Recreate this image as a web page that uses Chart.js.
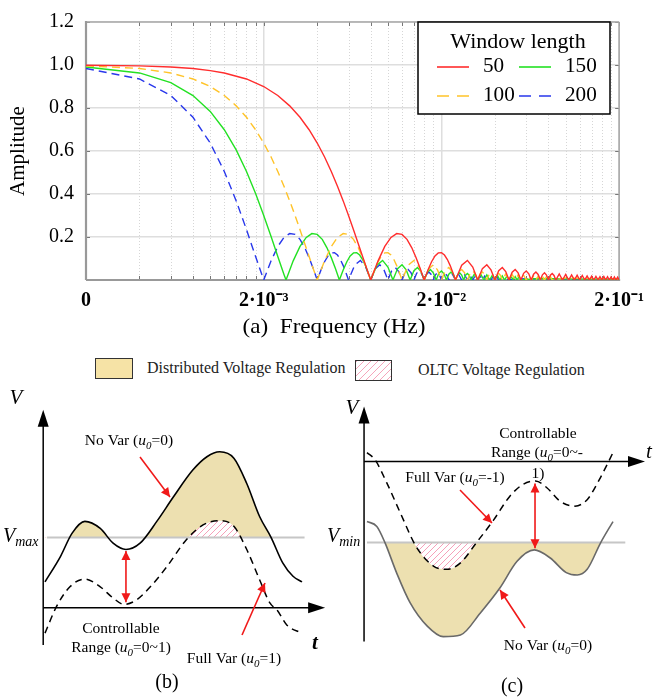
<!DOCTYPE html>
<html>
<head>
<meta charset="utf-8">
<script src="https://cdn.jsdelivr.net/npm/chart.js"></script>
<style>
html, body { margin: 0; padding: 0; background: #fff; }
#wrap { position: relative; width: 653px; height: 698px; overflow: hidden; font-family: "Liberation Serif", "Times New Roman", serif; }
#wrap canvas { position: absolute; }
#chartA { left: 0; top: 0; }
#chartB { left: 0; top: 385px; }
#chartC { left: 320px; top: 385px; }
.key { position: absolute; font-size: 16px; color: #222; white-space: nowrap; }
.box { position: absolute; border: 1px solid #333; box-sizing: border-box; }
</style>
</head>
<body>
<div id="wrap">
  <canvas id="chartA" width="653" height="340"></canvas>
  <div class="box" style="left:95px;top:358px;width:38px;height:21px;background:#f6e3a6;"></div>
  <div class="key" style="left:147px;top:359px;">Distributed Voltage Regulation</div>
  <div class="box" style="left:355px;top:360px;width:37px;height:21px;background:repeating-linear-gradient(135deg,#f5a5bb 0 1px,#fff 1px 5px);"></div>
  <div class="key" style="left:418px;top:361px;">OLTC Voltage Regulation</div>
  <canvas id="chartB" width="330" height="313"></canvas>
  <canvas id="chartC" width="333" height="313"></canvas>
</div>
<script>
// ---- (a) amplitude response for each window length ----
var windowLabels = ['50', '100', '150', '200'];

var freq50 = [0.0002, 0.0004, 0.0006, 0.0008, 0.001, 0.0012, 0.0016, 0.002, 0.0024, 0.0028, 0.0032, 0.0036, 0.004, 0.0044, 0.0048, 0.0052, 0.0056, 0.006, 0.0064, 0.0068, 0.0072, 0.0076, 0.008,
    0.0088, 0.0096, 0.0104, 0.0112, 0.012, 0.0128, 0.0136, 0.0144, 0.0152, 0.016,
    0.0168, 0.0176, 0.0184, 0.0192, 0.020, 0.0208, 0.0216, 0.0224, 0.0232, 0.024,
    0.026, 0.028, 0.030, 0.032, 0.034, 0.036, 0.038, 0.040, 0.042, 0.044, 0.046, 0.048, 0.050, 0.052, 0.054, 0.056,
    0.058, 0.060, 0.062, 0.064, 0.066, 0.068, 0.070, 0.072, 0.074, 0.076, 0.078, 0.080, 0.082, 0.084, 0.086, 0.088,
    0.092, 0.096, 0.100, 0.104, 0.108, 0.112, 0.116, 0.120, 0.124, 0.128, 0.132, 0.136, 0.140, 0.144,
    0.148, 0.152, 0.156, 0.160, 0.164, 0.168, 0.172, 0.176, 0.180, 0.184, 0.188, 0.192, 0.196, 0.200];
var amp50 = [0.999, 0.996, 0.991, 0.984, 0.974, 0.963, 0.935, 0.900, 0.858, 0.810, 0.757, 0.699, 0.637, 0.572, 0.505, 0.436, 0.368, 0.300, 0.234, 0.170, 0.109, 0.052, 0,
    0.089, 0.156, 0.198, 0.216, 0.212, 0.189, 0.151, 0.104, 0.052, 0,
    0.047, 0.085, 0.112, 0.126, 0.127, 0.116, 0.095, 0.067, 0.034, 0,
    0.069, 0.091, 0.060, 0, 0.053, 0.071, 0.047, 0, 0.043, 0.058, 0.039, 0, 0.036, 0.049, 0.033, 0,
    0.031, 0.042, 0.029, 0, 0.027, 0.037, 0.026, 0, 0.024, 0.034, 0.023, 0, 0.022, 0.030, 0.021, 0,
    0.028, 0, 0.026, 0, 0.024, 0, 0.022, 0, 0.021, 0, 0.019, 0, 0.018, 0,
    0.017, 0, 0.016, 0, 0.016, 0, 0.015, 0, 0.014, 0, 0.014, 0, 0.013, 0];

var freq100 = [0.0002, 0.0004, 0.0006, 0.0008, 0.001, 0.0012, 0.0014, 0.0016, 0.0018, 0.002, 0.0022, 0.0024, 0.0026, 0.0028, 0.003, 0.0032, 0.0034, 0.0036, 0.0038, 0.004,
    0.0044, 0.0048, 0.0052, 0.0056, 0.006, 0.0064, 0.0068, 0.0072, 0.0076, 0.008,
    0.0084, 0.0088, 0.0092, 0.0096, 0.010, 0.0104, 0.0108, 0.0112, 0.0116, 0.012,
    0.013, 0.014, 0.015, 0.016, 0.017, 0.018, 0.019, 0.020, 0.021, 0.022, 0.023, 0.024, 0.025, 0.026, 0.027, 0.028,
    0.029, 0.030, 0.031, 0.032, 0.033, 0.034, 0.035, 0.036, 0.037, 0.038, 0.039, 0.040, 0.041, 0.042, 0.043, 0.044,
    0.046, 0.048, 0.050, 0.052, 0.054, 0.056, 0.058, 0.060, 0.062, 0.064, 0.066, 0.068, 0.070, 0.072,
    0.074, 0.076, 0.078, 0.080, 0.082, 0.084, 0.10, 0.14, 0.20];
var amp100 = [0.996, 0.984, 0.963, 0.935, 0.900, 0.858, 0.810, 0.757, 0.699, 0.637, 0.572, 0.505, 0.436, 0.368, 0.300, 0.234, 0.170, 0.109, 0.052, 0,
    0.089, 0.156, 0.198, 0.216, 0.212, 0.189, 0.151, 0.104, 0.052, 0,
    0.047, 0.085, 0.112, 0.126, 0.127, 0.116, 0.095, 0.067, 0.034, 0,
    0.069, 0.091, 0.060, 0, 0.053, 0.071, 0.047, 0, 0.043, 0.058, 0.039, 0, 0.036, 0.049, 0.033, 0,
    0.031, 0.042, 0.029, 0, 0.027, 0.037, 0.026, 0, 0.024, 0.034, 0.023, 0, 0.022, 0.030, 0.021, 0,
    0.028, 0, 0.026, 0, 0.024, 0, 0.022, 0, 0.021, 0, 0.019, 0, 0.018, 0,
    0.017, 0, 0.016, 0, 0.016, 0, 0.009, 0.007, 0.006];

var freq150 = [0.0002, 0.0004, 0.0006, 0.0008, 0.001, 0.0012, 0.0014, 0.0016, 0.0018, 0.002, 0.0022, 0.0024, 0.0026, 0.00267,
    0.00293, 0.0032, 0.00347, 0.00373, 0.004, 0.00427, 0.00453, 0.0048, 0.00507, 0.00533,
    0.0056, 0.00587, 0.00613, 0.0064, 0.00667, 0.00693, 0.0072, 0.00747, 0.00773, 0.008,
    0.00867, 0.00933, 0.0100, 0.01067, 0.01133, 0.0120, 0.01267, 0.01333, 0.0140, 0.01467, 0.01533, 0.0160, 0.01667, 0.01733, 0.0180, 0.01867,
    0.01933, 0.0200, 0.02067, 0.02133, 0.0220, 0.02267, 0.02333, 0.0240, 0.02467, 0.02533, 0.0260, 0.02667, 0.02733, 0.0280, 0.02867, 0.02933,
    0.03067, 0.0320, 0.03333, 0.03467, 0.0360, 0.03733, 0.03867, 0.0400, 0.04133, 0.04267, 0.0440, 0.04533, 0.04667, 0.0480,
    0.04933, 0.05067, 0.0520, 0.05333, 0.05467, 0.0560, 0.07, 0.10, 0.14, 0.20];
var amp150 = [0.991, 0.963, 0.918, 0.858, 0.784, 0.699, 0.605, 0.505, 0.402, 0.300, 0.202, 0.109, 0.026, 0,
    0.089, 0.156, 0.198, 0.216, 0.212, 0.189, 0.151, 0.104, 0.052, 0,
    0.047, 0.085, 0.112, 0.126, 0.127, 0.116, 0.095, 0.067, 0.034, 0,
    0.069, 0.091, 0.060, 0, 0.053, 0.071, 0.047, 0, 0.043, 0.058, 0.039, 0, 0.036, 0.049, 0.033, 0,
    0.031, 0.042, 0.029, 0, 0.027, 0.037, 0.026, 0, 0.024, 0.034, 0.023, 0, 0.022, 0.030, 0.021, 0,
    0.028, 0, 0.026, 0, 0.024, 0, 0.022, 0, 0.021, 0, 0.019, 0, 0.018, 0,
    0.017, 0, 0.016, 0, 0.016, 0, 0.007, 0.005, 0.004, 0.004];

var freq200 = [0.0002, 0.0004, 0.0006, 0.0008, 0.001, 0.0012, 0.0014, 0.0016, 0.0018, 0.002,
    0.0022, 0.0024, 0.0026, 0.0028, 0.003, 0.0032, 0.0034, 0.0036, 0.0038, 0.004,
    0.0042, 0.0044, 0.0046, 0.0048, 0.005, 0.0052, 0.0054, 0.0056, 0.0058, 0.006,
    0.0065, 0.007, 0.0075, 0.008, 0.0085, 0.009, 0.0095, 0.010, 0.0105, 0.011, 0.0115, 0.012, 0.0125, 0.013, 0.0135, 0.014,
    0.0145, 0.015, 0.0155, 0.016, 0.0165, 0.017, 0.0175, 0.018, 0.0185, 0.019, 0.0195, 0.020, 0.0205, 0.021, 0.0215, 0.022,
    0.023, 0.024, 0.025, 0.026, 0.027, 0.028, 0.029, 0.030, 0.031, 0.032, 0.033, 0.034, 0.035, 0.036,
    0.037, 0.038, 0.039, 0.040, 0.041, 0.042, 0.06, 0.10, 0.14, 0.20];
var amp200 = [0.984, 0.935, 0.858, 0.757, 0.637, 0.505, 0.368, 0.234, 0.109, 0,
    0.089, 0.156, 0.198, 0.216, 0.212, 0.189, 0.151, 0.104, 0.052, 0,
    0.047, 0.085, 0.112, 0.126, 0.127, 0.116, 0.095, 0.067, 0.034, 0,
    0.069, 0.091, 0.060, 0, 0.053, 0.071, 0.047, 0, 0.043, 0.058, 0.039, 0, 0.036, 0.049, 0.033, 0,
    0.031, 0.042, 0.029, 0, 0.027, 0.037, 0.026, 0, 0.024, 0.034, 0.023, 0, 0.022, 0.030, 0.021, 0,
    0.028, 0, 0.026, 0, 0.024, 0, 0.022, 0, 0.021, 0, 0.019, 0, 0.018, 0,
    0.017, 0, 0.016, 0, 0.016, 0, 0.006, 0.004, 0.003, 0.003];

var freqTicks = [2e-4, 2e-3, 2e-2, 2e-1];
var freqTickLabels = ['0', '2·10⁻³', '2·10⁻²', '2·10⁻¹'];

// ---- (b) over-voltage case ----
var tNoVarB = [0, 0.6, 1.05, 1.55, 2.15, 2.65, 3.15, 3.7, 4.35, 5.0, 5.75, 6.3, 6.8, 7.35, 7.85, 8.35, 8.8, 9.25, 9.65, 10];
var vNoVarB = [0.987, 1.023, 1.056, 1.073, 1.063, 1.042, 1.033, 1.042, 1.073, 1.108, 1.146, 1.165, 1.172, 1.163, 1.127, 1.080, 1.050, 1.014, 0.995, 0.987];
var tFullVarB = [0, 0.45, 0.97, 1.55, 2.15, 2.65, 3.07, 3.55, 4.1, 4.75, 5.5, 6.15, 6.8, 7.35, 7.85, 8.35, 8.75, 9.05, 9.4, 10];
var vFullVarB = [0.914, 0.952, 0.980, 0.991, 0.980, 0.964, 0.955, 0.961, 0.980, 1.009, 1.047, 1.068, 1.074, 1.066, 1.033, 0.990, 0.957, 0.946, 0.926, 0.914];
var vMaxB = 1.05;
var tAxisB = 0.95;

// ---- (c) under-voltage case ----
var tNoVarC = [0, 0.4, 0.73, 1.2, 1.75, 2.45, 3.1, 3.8, 4.6, 5.4, 6.1, 6.8, 7.45, 8.1, 8.55, 8.95, 9.5, 10];
var vNoVarC = [0.976, 0.970, 0.950, 0.913, 0.876, 0.847, 0.834, 0.836, 0.863, 0.894, 0.927, 0.941, 0.931, 0.913, 0.910, 0.917, 0.950, 0.976];
var tFullVarC = [0, 0.33, 0.8, 1.35, 2.0, 2.7, 3.25, 3.8, 4.45, 5.15, 5.8, 6.35, 6.85, 7.3, 7.85, 8.45, 8.95, 9.45, 10];
var vFullVarC = [1.061, 1.052, 1.024, 0.987, 0.945, 0.921, 0.917, 0.925, 0.950, 0.978, 1.007, 1.022, 1.026, 1.018, 1.001, 0.995, 1.003, 1.028, 1.061];
var vMinC = 0.95;
var tAxisC = 1.05;

var serif = '"Liberation Serif", "Times New Roman", serif';
var red = 'rgb(255,45,45)', orange = 'rgb(255,195,40)', green = 'rgb(35,225,35)', blue = 'rgb(40,55,235)';
var tan = 'rgb(237,224,176)';
var arrowRed = 'rgb(240,25,25)';

function pairs(xs, ys) {
    return xs.map(function (x, i) { return {x: x, y: ys[i]}; });
}

var minorTicks = [];
freqTicks.forEach(function (f, i) {
    if (i < freqTicks.length - 1) {
        for (var k = 1; k <= 9; k++) minorTicks.push(f * k);
    }
});
minorTicks.push(freqTicks[freqTicks.length - 1]);

function majorIndex(v) {
    for (var i = 0; i < freqTicks.length; i++) {
        if (Math.abs(freqTicks[i] - v) / freqTicks[i] < 1e-6) return i;
    }
    return -1;
}

function line(ctx, x0, y0, x1, y1) {
    ctx.beginPath(); ctx.moveTo(x0, y0); ctx.lineTo(x1, y1); ctx.stroke();
}

function stretchText(ctx, text, cx, cy, font, sx, align) {
    ctx.save();
    ctx.font = font;
    ctx.translate(cx, cy);
    ctx.scale(sx, 1);
    ctx.textAlign = align || 'center';
    ctx.textBaseline = 'middle';
    ctx.fillText(text, 0, 0);
    ctx.restore();
}

// frame, dotted minor grid, inner ticks, x title and the boxed legend of (a)
var frameA = {
    id: 'frameA',
    beforeDatasetsDraw: function (chart) {
        var ctx = chart.ctx, a = chart.chartArea, xs = chart.scales.x, ys = chart.scales.y;
        ctx.save();
        ctx.strokeStyle = '#d6d6d6';
        ctx.lineWidth = 1;
        ctx.setLineDash([1, 2]);
        minorTicks.forEach(function (f) {
            if (majorIndex(f) >= 0) return;
            var px = Math.round(xs.getPixelForValue(f)) + 0.5;
            line(ctx, px, a.top, px, a.bottom);
        });
        ctx.setLineDash([]);
        ctx.strokeStyle = '#777';
        minorTicks.forEach(function (f) {
            var px = Math.round(xs.getPixelForValue(f)) + 0.5;
            line(ctx, px, a.bottom, px, a.bottom - 4);
            line(ctx, px, a.top, px, a.top + 4);
        });
        ys.ticks.forEach(function (t) {
            var py = Math.round(ys.getPixelForValue(t.value)) + 0.5;
            line(ctx, a.left, py, a.left + 4, py);
            line(ctx, a.right, py, a.right - 4, py);
        });
        ctx.strokeStyle = '#a8a8a8';
        ctx.lineWidth = 1.5;
        line(ctx, a.left, a.top, a.right, a.top);
        line(ctx, a.right, a.top, a.right, a.bottom);
        ctx.strokeStyle = '#999';
        ctx.lineWidth = 2.2;
        line(ctx, a.left, a.top - 1, a.left, a.bottom);
        line(ctx, a.left, a.bottom, a.right + 1, a.bottom);
        ctx.restore();
    },
    afterDraw: function (chart) {
        var ctx = chart.ctx;
        ctx.save();
        ctx.fillStyle = '#000';
        stretchText(ctx, '(a)  Frequency (Hz)', 334, 327, '21px ' + serif, 1.1);

        var lx = 418, ly = 22, lw = 192, lh = 92;
        ctx.fillStyle = '#fff';
        ctx.fillRect(lx, ly, lw, lh);
        ctx.strokeStyle = '#000';
        ctx.lineWidth = 1.5;
        ctx.strokeRect(lx, ly, lw, lh);
        ctx.fillStyle = '#000';
        stretchText(ctx, 'Window length', lx + 100, ly + 21, '20px ' + serif, 1.1);
        chart.data.datasets.forEach(function (ds, i) {
            var col = Math.floor(i / 2), row = i % 2;
            var x0 = lx + 19 + col * 82, y = ly + 45 + row * 29;
            ctx.strokeStyle = ds.borderColor;
            ctx.lineWidth = 1.6;
            ctx.setLineDash(ds.borderDash.length ? [12, 8] : []);
            line(ctx, x0, y, x0 + 32, y);
            ctx.setLineDash([]);
            ctx.fillStyle = '#000';
            stretchText(ctx, ds.label, x0 + 46, y, '20px ' + serif, 1.06, 'left');
        });
        ctx.restore();
    }
};

new Chart(document.getElementById('chartA'), {
    type: 'line',
    data: {
        datasets: [
            {label: windowLabels[0], data: pairs(freq50, amp50), borderColor: red, borderDash: []},
            {label: windowLabels[1], data: pairs(freq100, amp100), borderColor: orange, borderDash: [8, 5]},
            {label: windowLabels[2], data: pairs(freq150, amp150), borderColor: green, borderDash: []},
            {label: windowLabels[3], data: pairs(freq200, amp200), borderColor: blue, borderDash: [8, 5]}
        ]
    },
    options: {
        responsive: false,
        animation: false,
        layout: {padding: {left: 0, right: 31, top: 10, bottom: 0}},
        elements: {
            line: {borderWidth: 1.4, tension: 0, fill: false},
            point: {radius: 0}
        },
        plugins: {
            legend: {display: false},
            tooltip: {enabled: false}
        },
        scales: {
            x: {
                type: 'logarithmic',
                min: freqTicks[0],
                max: freqTicks[freqTicks.length - 1],
                afterBuildTicks: function (s) {
                    s.ticks = minorTicks.map(function (v) { return {value: v}; });
                },
                afterFit: function (s) { s.height = 60; },
                ticks: {
                    autoSkip: false, maxRotation: 0, minRotation: 0, padding: 9,
                    color: '#000',
                    font: {family: serif, size: 20, weight: 'bold'},
                    callback: function (v) {
                        var i = majorIndex(v);
                        return i < 0 ? '' : freqTickLabels[i];
                    }
                },
                grid: {
                    drawTicks: false,
                    lineWidth: 1.5,
                    color: function (c) {
                        return c.tick && majorIndex(c.tick.value) >= 0 ? '#dedede' : 'rgba(0,0,0,0)';
                    }
                },
                border: {display: false}
            },
            y: {
                min: 0,
                max: 1.2,
                afterFit: function (s) { s.width = 86; },
                ticks: {
                    stepSize: 0.2, padding: 12, color: '#000',
                    font: {family: serif, size: 20, lineHeight: 1},
                    callback: function (v) { return v === 0 ? '' : v.toFixed(1); }
                },
                grid: {drawTicks: false, color: '#dedede', lineWidth: 1.5},
                border: {display: false},
                title: {
                    display: true, text: 'Amplitude', color: '#000',
                    font: {family: serif, size: 21},
                    padding: {top: 6, bottom: 0}
                }
            }
        }
    },
    plugins: [frameA]
});

// ---- helpers for the two schematic panels ----
// pink hatching on white, so it covers the tan fill where both overlap
function makeHatch(ctx) {
    var c = document.createElement('canvas');
    c.width = 6; c.height = 6;
    var g = c.getContext('2d');
    g.fillStyle = '#fff';
    g.fillRect(0, 0, 6, 6);
    g.strokeStyle = 'rgb(246,160,185)';
    g.lineWidth = 1;
    g.beginPath();
    g.moveTo(-1, 7); g.lineTo(7, -1);
    g.moveTo(-1, 1); g.lineTo(1, -1);
    g.moveTo(5, 7); g.lineTo(7, 5);
    g.stroke();
    return ctx.createPattern(c, 'repeat');
}

function richText(ctx, parts, x, cy, size, align) {
    var fonts = {
        n: size + 'px ' + serif,
        i: 'italic ' + size + 'px ' + serif,
        b: 'bold italic ' + size + 'px ' + serif,
        s: 'italic ' + Math.round(size * 0.72) + 'px ' + serif
    };
    var w = 0;
    parts.forEach(function (p) { ctx.font = fonts[p[1]]; w += ctx.measureText(p[0]).width; });
    var px = align === 'left' ? x : x - w / 2;
    var base = cy + size * 0.33;
    ctx.textAlign = 'left';
    ctx.textBaseline = 'alphabetic';
    parts.forEach(function (p) {
        ctx.font = fonts[p[1]];
        ctx.fillText(p[0], px, base + (p[1] === 's' ? size * 0.22 : 0));
        px += ctx.measureText(p[0]).width;
    });
}

function arrow(ctx, x0, y0, x1, y1, both) {
    var L = 9, W = 4.5;
    function head(x, y, ang) {
        ctx.beginPath();
        ctx.moveTo(x, y);
        ctx.lineTo(x - L * Math.cos(ang) + W * Math.sin(ang), y - L * Math.sin(ang) - W * Math.cos(ang));
        ctx.lineTo(x - L * Math.cos(ang) - W * Math.sin(ang), y - L * Math.sin(ang) + W * Math.cos(ang));
        ctx.closePath();
        ctx.fill();
    }
    var a = Math.atan2(y1 - y0, x1 - x0);
    line(ctx, x0, y0, x1, y1);
    head(x1, y1, a);
    if (both) head(x0, y0, a + Math.PI);
}

function axes(chart, tY, tEnd, vT, vFrom, vTo) {
    var ctx = chart.ctx, xs = chart.scales.x, ys = chart.scales.y;
    var px = xs.getPixelForValue(tY), pEnd = xs.getPixelForValue(tEnd);
    var pyT = ys.getPixelForValue(vT), pTop = ys.getPixelForValue(vTo), pBot = ys.getPixelForValue(vFrom);
    ctx.strokeStyle = '#000';
    ctx.fillStyle = '#000';
    ctx.lineWidth = 1.5;
    line(ctx, px, pBot, px, pTop + 14);
    line(ctx, px, pyT, pEnd - 14, pyT);
    ctx.beginPath();
    ctx.moveTo(px, pTop); ctx.lineTo(px - 5.5, pTop + 17); ctx.lineTo(px + 5.5, pTop + 17); ctx.closePath();
    ctx.fill();
    ctx.beginPath();
    ctx.moveTo(pEnd, pyT); ctx.lineTo(pEnd - 17, pyT - 5.5); ctx.lineTo(pEnd - 17, pyT + 5.5); ctx.closePath();
    ctx.fill();
}

function limitLine(chart, v, t0, t1) {
    var ctx = chart.ctx, xs = chart.scales.x, ys = chart.scales.y;
    var py = ys.getPixelForValue(v);
    ctx.save();
    ctx.strokeStyle = '#c6c6c6';
    ctx.lineWidth = 2;
    line(ctx, xs.getPixelForValue(t0), py, xs.getPixelForValue(t1), py);
    ctx.restore();
}

function panelChart(id, datasets, pad, vRange, plugin) {
    return new Chart(document.getElementById(id), {
        type: 'line',
        data: {datasets: datasets},
        options: {
            responsive: false,
            animation: false,
            layout: {padding: pad},
            elements: {point: {radius: 0}},
            plugins: {
                legend: {display: false},
                tooltip: {enabled: false},
                filler: {drawTime: 'beforeDatasetsDraw'}
            },
            scales: {
                x: {type: 'linear', min: 0, max: 10, display: false},
                y: {type: 'linear', min: vRange[0], max: vRange[1], display: false}
            }
        },
        plugins: [plugin]
    });
}

var u0 = function (pre, post) { return [[pre, 'n'], ['u', 'i'], ['0', 's'], [post, 'n']]; };

// ---- (b) ----
var hatchB = makeHatch(document.getElementById('chartB').getContext('2d'));
var panelB = {
    id: 'panelB',
    beforeDatasetsDraw: function (chart) { limitLine(chart, vMaxB, 0.08, 10.1); },
    afterDraw: function (chart) {
        var ctx = chart.ctx;
        ctx.save();
        axes(chart, -0.07, 10.9, tAxisB, 0.897, 1.232);
        ctx.fillStyle = '#000';
        richText(ctx, [['V', 'i']], 16, 12, 21);
        richText(ctx, [['V', 'i'], ['max', 's']], 3, 150, 20, 'left');
        richText(ctx, [['t', 'b']], 315, 257, 21);
        richText(ctx, u0('No Var (', '=0)'), 129, 55, 15.5);
        richText(ctx, [['Controllable', 'n']], 121, 243, 15.5);
        richText(ctx, u0('Range (', '=0~1)'), 121, 262, 15.5);
        richText(ctx, u0('Full Var (', '=1)'), 234, 273, 15.5);
        richText(ctx, [['(b)', 'n']], 167, 296, 20);
        ctx.strokeStyle = arrowRed;
        ctx.fillStyle = arrowRed;
        ctx.lineWidth = 1.6;
        var xs = chart.scales.x, ys = chart.scales.y;
        arrow(ctx, xs.getPixelForValue(3.15), ys.getPixelForValue(1.031), xs.getPixelForValue(3.15), ys.getPixelForValue(0.958), true);
        arrow(ctx, 140, 72, 170, 112);
        arrow(ctx, 242, 250, 265, 198);
        ctx.restore();
    }
};
// dashed curve first: its hatch is filled after (on top of) the tan area
panelChart('chartB', [
    {data: pairs(tFullVarB, vFullVarB), borderColor: '#000', borderWidth: 1.5, borderDash: [7, 5], cubicInterpolationMode: 'monotone', clip: false,
        fill: {target: {value: vMaxB}, above: hatchB, below: 'rgba(0,0,0,0)'}},
    {data: pairs(tNoVarB, vNoVarB), borderColor: '#000', borderWidth: 1.6, cubicInterpolationMode: 'monotone', clip: false,
        fill: {target: {value: vMaxB}, above: tan, below: 'rgba(0,0,0,0)'}}
], {left: 45, right: 28, top: 12, bottom: 55}, [0.90, 1.25], panelB);

// ---- (c) ----
var hatchC = makeHatch(document.getElementById('chartC').getContext('2d'));
var panelC = {
    id: 'panelC',
    beforeDatasetsDraw: function (chart) { limitLine(chart, vMinC, 0, 10.5); },
    afterDraw: function (chart) {
        var ctx = chart.ctx;
        ctx.save();
        axes(chart, -0.12, 11.3, tAxisC, 0.828, 1.118);
        ctx.fillStyle = '#000';
        richText(ctx, [['V', 'i']], 32, 22, 21);
        richText(ctx, [['V', 'i'], ['min', 's']], 7, 150, 20, 'left');
        richText(ctx, [['t', 'i']], 329, 66, 21);
        richText(ctx, [['Controllable', 'n']], 218, 48, 15.5);
        richText(ctx, u0('Range (', '=0~-'), 217, 67, 15.5);
        richText(ctx, [['1)', 'n']], 218, 88, 15.5);
        richText(ctx, u0('Full Var (', '=-1)'), 135, 92, 15.5);
        richText(ctx, u0('No Var (', '=0)'), 228, 260, 15.5);
        richText(ctx, [['(c)', 'n']], 192, 300, 20);
        ctx.strokeStyle = arrowRed;
        ctx.fillStyle = arrowRed;
        ctx.lineWidth = 1.6;
        var xs = chart.scales.x, ys = chart.scales.y;
        arrow(ctx, xs.getPixelForValue(6.83), ys.getPixelForValue(1.023), xs.getPixelForValue(6.83), ys.getPixelForValue(0.943), true);
        arrow(ctx, 140, 105, 172, 138);
        arrow(ctx, 205, 243, 180, 205);
        ctx.restore();
    }
};
panelChart('chartC', [
    {data: pairs(tFullVarC, vFullVarC), borderColor: '#000', borderWidth: 1.5, borderDash: [7, 5], cubicInterpolationMode: 'monotone', clip: false,
        fill: {target: {value: vMinC}, above: 'rgba(0,0,0,0)', below: hatchC}},
    {data: pairs(tNoVarC, vNoVarC), borderColor: 'rgb(105,105,105)', borderWidth: 1.6, cubicInterpolationMode: 'monotone', clip: false,
        fill: {target: {value: vMinC}, above: 'rgba(0,0,0,0)', below: tan}}
], {left: 47, right: 40, top: 36, bottom: 50}, [0.82, 1.10], panelC);
</script>
</body>
</html>
